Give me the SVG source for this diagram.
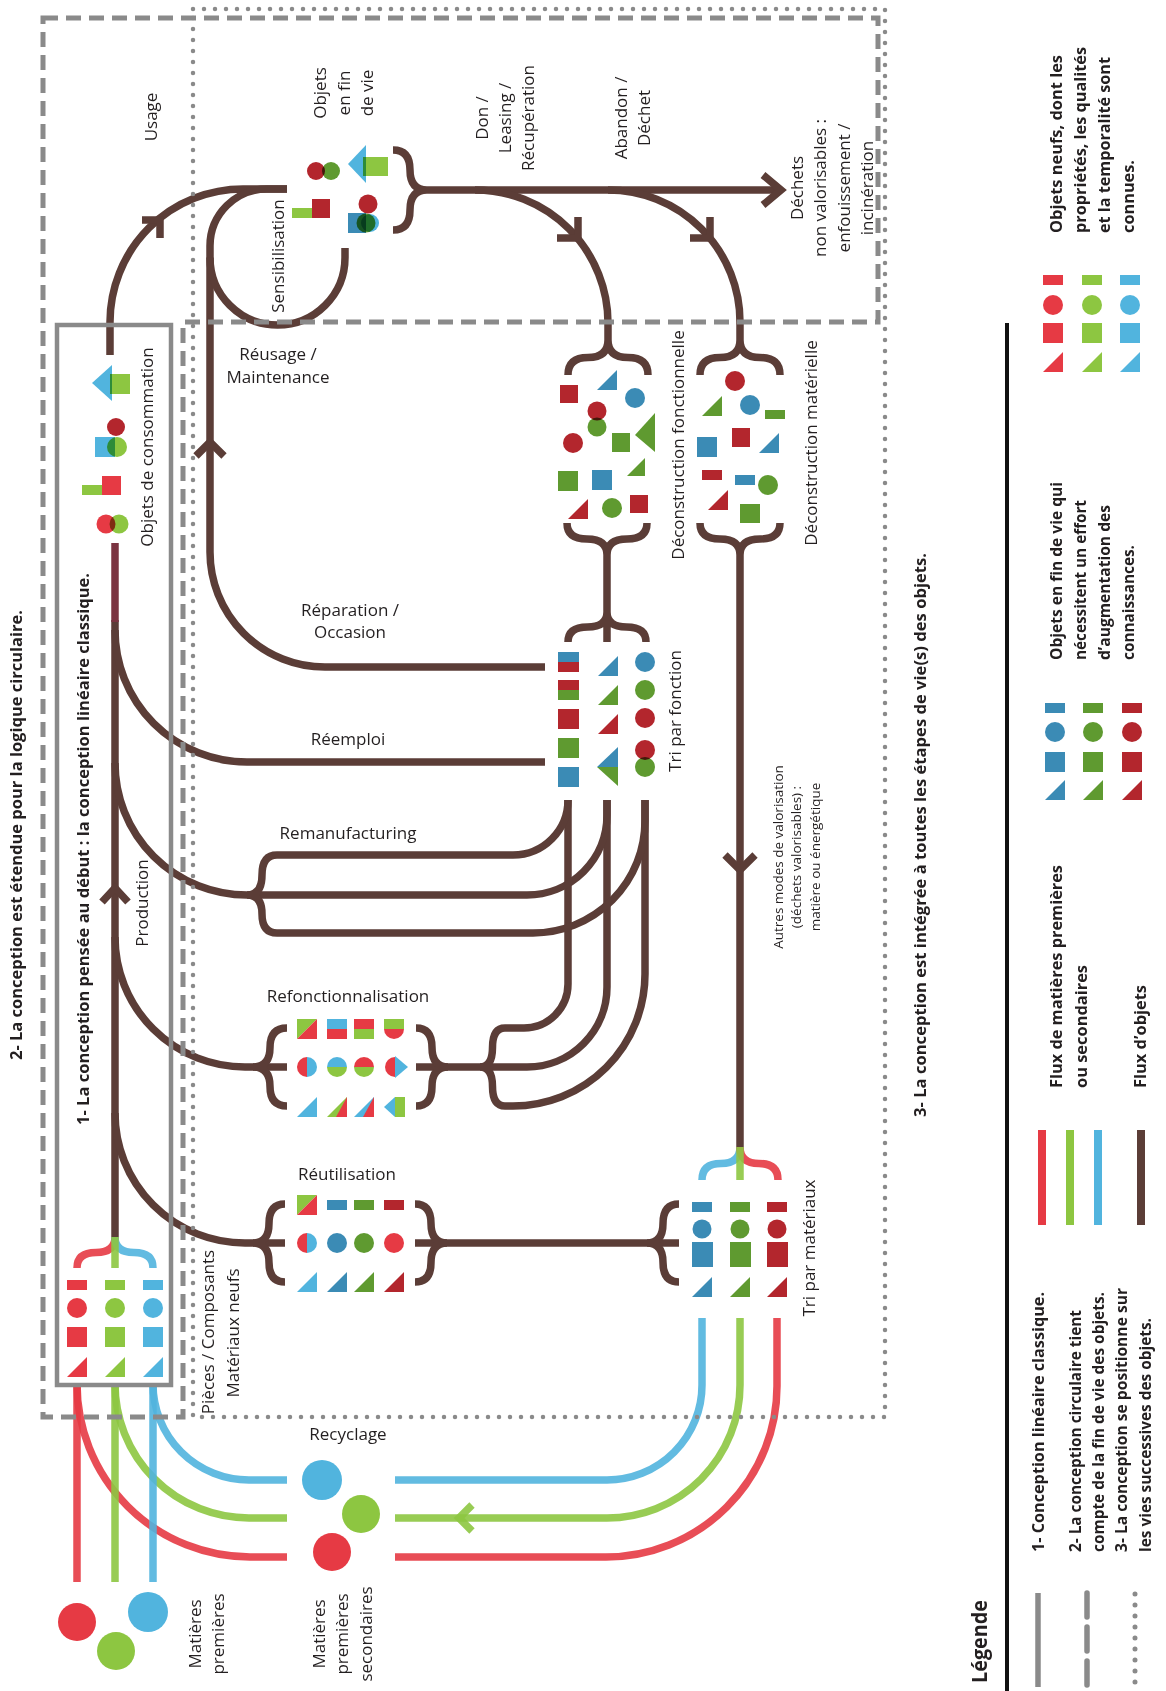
<svg xmlns="http://www.w3.org/2000/svg" width="1166" height="1691" viewBox="0 0 1166 1691">
<style>
.t{font-family:"Open Sans","Liberation Sans",sans-serif;font-size:17px;fill:#231f20}
.b{font-weight:bold;font-size:16px}
.sm{font-size:13.5px}
.m{text-anchor:middle}
.br{fill:none;stroke:#5b3d37;stroke-width:7.5}
.cr{fill:none;stroke:#e63a44;stroke-width:7.5;stroke-opacity:.9}
.cg{fill:none;stroke:#8dc641;stroke-width:7.5;stroke-opacity:.9}
.cb{fill:none;stroke:#51b4de;stroke-width:7.5;stroke-opacity:.9}
.R{fill:#e63a44}.G{fill:#8dc641}.B{fill:#51b4de}
.DR{fill:#b3262d}.DG{fill:#5f9a30}.DB{fill:#3b8bb5}
.mx{mix-blend-mode:multiply}
.fr{fill:none;stroke:#8a8a8a}
</style>
<defs>
<path id="tri" d="M20,0V20H0Z"/>
<rect id="sq" width="20" height="20"/>
<rect id="bar" width="20" height="10"/>
</defs>
<rect width="1166" height="1691" fill="#fff"/>

<g id="connectors">
<path class="br" d="M115,620V1237"/>
<path d="M115,543V622" fill="none" stroke="#7b3441" stroke-width="7.5"/>
<path class="br" d="M102,902L115,888L128,902"/>
<path class="br" d="M110,355V322A133,133 0 0 1 243,189H287"/>
<path class="br" d="M142,220H160V238"/>
<path class="br" d="M287,189H267A57,57 0 0 0 210,246V552A115,115 0 0 0 325,667H545"/>
<path class="br" d="M196,456L210,442L224,456"/>
<path class="br" d="M210,257.5A67.5,67.5 0 0 0 345,257.5V248"/>
<path class="br" d="M393,150Q410,150 410,170Q410,190 427,190Q410,190 410,210Q410,230 393,230"/>
<path class="br" d="M427,190H781"/>
<path class="br" d="M763,175L781,190L763,205"/>
<path class="br" d="M475,190A133,133 0 0 1 608,323V340"/>
<path class="br" d="M557,238H578V217"/>
<path class="br" d="M608,190A132,132 0 0 1 740,322V340"/>
<path class="br" d="M690,238H710V217"/>
<path class="br" d="M608,340Q608,357.5 588,357.5Q568,357.5 568,375M608,340Q608,357.5 628,357.5Q648,357.5 648,375"/>
<path class="br" d="M740,340Q740,357.5 720,357.5Q700,357.5 700,375M740,340Q740,357.5 760,357.5Q780,357.5 780,375"/>
<path class="br" d="M567,523Q567,539 587,539Q607,539 607,555M647,523Q647,539 627,539Q607,539 607,555V612"/>
<path class="br" d="M700,523Q700,539 720,539Q740,539 740,555M780,523Q780,539 760,539Q740,539 740,555V1147"/>
<path class="br" d="M725,855L740,870L755,855"/>
<path class="br" d="M607,612Q607,627 587.5,627Q568,627 568,642M607,612Q607,627 626.5,627Q646,627 646,642M607,612V642"/>
<path class="br" d="M115,630A132,132 0 0 0 247,762H545"/>
<path class="br" d="M568,800V984A44,44 0 0 1 524,1028H505"/>
<path class="br" d="M607,800V987A80,80 0 0 1 527,1067H416"/>
<path class="br" d="M645,800V974A132,132 0 0 1 513,1106H505"/>
<path class="br" d="M568,800A55,55 0 0 1 513,855H277"/>
<path class="br" d="M607,800V815A80,80 0 0 1 527,895H247"/>
<path class="br" d="M645,800V821A112,112 0 0 1 533,933H277"/>
<path class="br" d="M115,763A132,132 0 0 0 247,895"/>
<path class="br" d="M247,895Q262,895 262,875Q262,855 277,855M247,895Q262,895 262,914Q262,933 277,933"/>
<path class="br" d="M115,937A130,130 0 0 0 245,1067H287"/>
<path class="br" d="M253,1067Q270,1067 270,1047.5Q270,1028 287,1028M253,1067Q270,1067 270,1086.5Q270,1106 287,1106"/>
<path class="br" d="M448,1067Q432,1067 432,1047.5Q432,1028 416,1028M448,1067Q432,1067 432,1086.5Q432,1106 416,1106"/>
<path class="br" d="M480,1067Q492.5,1067 492.5,1047.5Q492.5,1028 505,1028M480,1067Q492.5,1067 492.5,1086.5Q492.5,1106 505,1106"/>
<path class="br" d="M115,1113A130,130 0 0 0 245,1243H285"/>
<path class="br" d="M253,1243Q269,1243 269,1223.5Q269,1204 285,1204M253,1243Q269,1243 269,1262.5Q269,1282 285,1282"/>
<path class="br" d="M415,1243H679"/>
<path class="br" d="M447,1243Q431,1243 431,1223.5Q431,1204 415,1204M447,1243Q431,1243 431,1262.5Q431,1282 415,1282"/>
<path class="br" d="M647,1243Q663,1243 663,1223.5Q663,1204 679,1204M647,1243Q663,1243 663,1262.5Q663,1282 679,1282"/>
<path class="cb" d="M740,1147Q740,1163.5 721,1163.5Q702,1163.5 702,1180"/>
<path class="cr" d="M740,1147Q740,1163.5 759,1163.5Q778,1163.5 778,1180"/>
<path class="cg" d="M740,1147V1180"/>
<path class="cr" d="M115,1237Q115,1252.5 96,1252.5Q77,1252.5 77,1268"/>
<path class="cb" d="M115,1237Q115,1252.5 134,1252.5Q153,1252.5 153,1268"/>
<path class="cg" d="M115,1237V1268"/>
<path class="cb" d="M702,1318V1385A95,95 0 0 1 607,1480H395"/>
<path class="cg" d="M740,1318V1385A133,133 0 0 1 607,1518H395"/>
<path class="cr" d="M777,1318V1386A171,171 0 0 1 606,1557H395"/>
<path class="cg" d="M472,1505L459,1518L472,1531"/>
<path class="cb" d="M153,1384A96,96 0 0 0 249,1480H287"/>
<path class="cg" d="M115,1384A134,134 0 0 0 249,1518H287"/>
<path class="cr" d="M77,1384A173,173 0 0 0 250,1557H287"/>
<path class="cr" d="M77,1385V1582"/>
<path class="cg" d="M115,1385V1582"/>
<path class="cb" d="M153,1385V1582"/>
</g>

<g id="frames">
<path class="fr" d="M43,18H878V322H183V1417H43Z" stroke-width="5" stroke-dasharray="15 8"/>
<rect class="fr" x="193" y="9" width="692" height="1408" stroke-width="4.5" stroke-dasharray="0 11" stroke-linecap="round"/>
<rect class="fr" x="57" y="325" width="114" height="1060" stroke-width="4.5"/>
</g>

<g id="frame-labels" class="t b">
<text class="m" transform="translate(21.5,835) rotate(-90)" textLength="450" lengthAdjust="spacingAndGlyphs">2- La conception est étendue pour la logique circulaire.</text>
<text class="m" transform="translate(88.5,849) rotate(-90)" textLength="552" lengthAdjust="spacingAndGlyphs">1- La conception pensée au début : la conception linéaire classique.</text>
<text class="m" transform="translate(926,835) rotate(-90)" textLength="564" lengthAdjust="spacingAndGlyphs">3- La conception est intégrée à toutes les étapes de vie(s) des objets.</text>
</g>

<g id="flow-labels" class="t">
<text class="m" transform="translate(157,117) rotate(-90)">Usage</text>
<text class="m" transform="translate(148,903) rotate(-90)">Production</text>
<text class="m" transform="translate(284,256) rotate(-90)">Sensibilisation</text>
<text class="m" transform="translate(488,118) rotate(-90)">Don /</text>
<text class="m" transform="translate(511,118) rotate(-90)">Leasing /</text>
<text class="m" transform="translate(534,118) rotate(-90)">Récupération</text>
<text class="m" transform="translate(627,118) rotate(-90)">Abandon /</text>
<text class="m" transform="translate(650,118) rotate(-90)">Déchet</text>
<text class="m" x="278" y="360">Réusage /</text>
<text class="m" x="278" y="383">Maintenance</text>
<text class="m" x="350" y="616">Réparation /</text>
<text class="m" x="350" y="638">Occasion</text>
<text class="m" x="348" y="745">Réemploi</text>
<text class="m" x="348" y="839">Remanufacturing</text>
<text class="m" x="348" y="1002">Refonctionnalisation</text>
<text class="m" x="347" y="1180">Réutilisation</text>
<text class="m" x="348" y="1440">Recyclage</text>
<text class="m sm" transform="translate(783,857) rotate(-90)">Autres modes de valorisation</text>
<text class="m sm" transform="translate(801,857) rotate(-90)">(déchets valorisables) :</text>
<text class="m sm" transform="translate(820,857) rotate(-90)">matière ou énergétique</text>
</g>

<g id="node-consommation">
<path class="B" d="M92,383L112,365L112,401Z"/>
<rect class="G mx" x="110" y="374" width="20" height="20"/>
<circle class="DR" cx="116" cy="427" r="9"/>
<rect class="B" x="95" y="437" width="20" height="20"/>
<circle class="G mx" cx="117" cy="447" r="10"/>
<rect class="G" x="82" y="485" width="20" height="10"/>
<rect class="R" x="102" y="476" width="19" height="19"/>
<circle class="R" cx="106" cy="524" r="9.5"/>
<circle class="G mx" cx="119" cy="524" r="9.5"/>
<text class="t m" transform="translate(153,447) rotate(-90)">Objets de consommation</text>
</g>

<g id="node-fin-de-vie">
<circle class="DR" cx="316" cy="171" r="9"/>
<circle class="DG mx" cx="331" cy="171" r="9"/>
<path class="B" d="M348,164L366,145L366,183Z"/>
<rect class="G mx" x="363" y="157" width="25" height="19"/>
<rect class="G" x="292" y="208" width="20" height="10"/>
<rect class="DR" x="312" y="199" width="18" height="19"/>
<circle class="DR" cx="368" cy="204" r="9.5"/>
<rect class="DB" x="348" y="213" width="18" height="20"/>
<circle class="DG mx" cx="366" cy="223" r="9.5"/>
<circle class="B mx" cx="370" cy="223" r="9"/>
<text class="t m" transform="translate(326,93) rotate(-90)">Objets</text>
<text class="t m" transform="translate(350,93) rotate(-90)">en fin</text>
<text class="t m" transform="translate(373,93) rotate(-90)">de vie</text>
</g>

<g id="node-dechets">
<text class="t m" transform="translate(803,188) rotate(-90)">Déchets</text>
<text class="t m" transform="translate(826,188) rotate(-90)">non valorisables :</text>
<text class="t m" transform="translate(850,188) rotate(-90)">enfouissement /</text>
<text class="t m" transform="translate(873,188) rotate(-90)">incinération</text>
</g>

<g id="node-deconstruction-fonctionnelle">
<rect class="DR" x="560" y="385" width="18" height="18"/>
<use href="#tri" class="DB" x="597" y="370"/>
<circle class="DB" cx="635" cy="398" r="10"/>
<circle class="DR" cx="597" cy="411" r="9.5"/>
<circle class="DG mx" cx="597" cy="427" r="9.5"/>
<path class="DG" d="M655,413V452L635,435Z"/>
<circle class="DR" cx="573" cy="443" r="10"/>
<rect class="DG" x="612" y="433" width="18" height="19"/>
<use href="#sq" class="DG" x="558" y="471"/>
<use href="#sq" class="DB" x="592" y="470"/>
<path class="DG" d="M645,458V476H627Z"/>
<use href="#tri" class="DR" x="568" y="499"/>
<circle class="DG" cx="612" cy="508" r="10"/>
<rect class="DR" x="630" y="495" width="18" height="18"/>
<text class="t m" transform="translate(684,445) rotate(-90)">Déconstruction fonctionnelle</text>
</g>

<g id="node-deconstruction-materielle">
<circle class="DR" cx="735" cy="381" r="10"/>
<use href="#tri" class="DG" x="702" y="396"/>
<circle class="DB" cx="750" cy="405" r="10"/>
<rect class="DG" x="765" y="410" width="20" height="9"/>
<use href="#sq" class="DB" x="697" y="437"/>
<rect class="DR" x="732" y="428" width="18" height="19"/>
<use href="#tri" class="DB" x="759" y="433"/>
<use href="#bar" class="DR" x="702" y="470"/>
<use href="#bar" class="DB" x="735" y="475"/>
<circle class="DG" cx="768" cy="485" r="10"/>
<use href="#tri" class="DR" x="708" y="490"/>
<rect class="DG" x="740" y="504" width="20" height="19"/>
<text class="t m" transform="translate(817,443) rotate(-90)">Déconstruction matérielle</text>
</g>

<g id="node-tri-fonction">
<rect class="DB" x="558" y="652" width="21" height="10"/>
<rect class="DR" x="558" y="662" width="21" height="10"/>
<rect class="DR" x="558" y="680" width="21" height="10"/>
<rect class="DG" x="558" y="690" width="21" height="10"/>
<rect class="DR" x="558" y="709" width="21" height="20"/>
<rect class="DG" x="558" y="738" width="21" height="20"/>
<rect class="DB" x="558" y="767" width="21" height="20"/>
<use href="#tri" class="DB" x="598" y="656"/>
<use href="#tri" class="DG" x="598" y="685"/>
<use href="#tri" class="DR" x="598" y="714"/>
<path class="DB" d="M618,747V767H597Z"/>
<path class="DG" d="M597,767H618V786Z"/>
<circle class="DB" cx="645" cy="662" r="10"/>
<circle class="DG" cx="645" cy="690" r="10"/>
<circle class="DR" cx="645" cy="718" r="10"/>
<circle class="DR" cx="645" cy="750" r="10"/>
<circle class="DG mx" cx="645" cy="767" r="10"/>
<text class="t m" transform="translate(681,711) rotate(-90)">Tri par fonction</text>
</g>

<g id="node-refonctionnalisation">
<path class="G" d="M297,1019H317L297,1039Z"/>
<path class="R" d="M317,1019V1039H297Z"/>
<rect class="B" x="327" y="1019" width="20" height="10"/>
<rect class="R" x="327" y="1029" width="20" height="10"/>
<rect class="R" x="354" y="1019" width="20" height="10"/>
<rect class="G" x="354" y="1029" width="20" height="10"/>
<rect class="G" x="384" y="1019" width="20" height="10"/>
<path class="R" d="M384,1029A10,10 0 0 0 404,1029Z"/>
<path class="R" d="M307,1057A10,10 0 0 0 307,1077Z"/>
<path class="B" d="M307,1057A10,10 0 0 1 307,1077Z"/>
<path class="B" d="M327,1067A10,10 0 0 1 347,1067Z"/>
<path class="G" d="M327,1067A10,10 0 0 0 347,1067Z"/>
<path class="R" d="M354,1067A10,10 0 0 1 374,1067Z"/>
<path class="G" d="M354,1067A10,10 0 0 0 374,1067Z"/>
<path class="R" d="M395,1057A10,10 0 0 0 395,1077Z"/>
<path class="B" d="M395,1056L408,1067L395,1078Z"/>
<use href="#tri" class="B" x="297" y="1097"/>
<use href="#tri" class="G" x="327" y="1097"/>
<path class="R" d="M347,1097V1117H336Z"/>
<use href="#tri" class="B" x="354" y="1097"/>
<path class="R" d="M374,1097V1117H363Z"/>
<path class="B" d="M384,1107L395,1097V1117Z"/>
<rect class="G" x="395" y="1097" width="10" height="20"/>
</g>

<g id="node-reutilisation">
<path class="G" d="M297,1195H317L297,1215Z"/>
<path class="R" d="M317,1195V1215H297Z"/>
<use href="#bar" class="DB" x="327" y="1200"/>
<use href="#bar" class="DG" x="354" y="1200"/>
<use href="#bar" class="DR" x="384" y="1200"/>
<path class="R" d="M307,1233A10,10 0 0 0 307,1253Z"/>
<path class="B" d="M307,1233A10,10 0 0 1 307,1253Z"/>
<circle class="DB" cx="337" cy="1243" r="10"/>
<circle class="DG" cx="364" cy="1243" r="10"/>
<circle class="R" cx="394" cy="1243" r="10"/>
<use href="#tri" class="B" x="297" y="1272"/>
<use href="#tri" class="DB" x="327" y="1272"/>
<use href="#tri" class="DG" x="354" y="1272"/>
<use href="#tri" class="DR" x="384" y="1272"/>
</g>

<g id="node-tri-materiaux">
<use href="#bar" class="DB" x="692" y="1202"/>
<use href="#bar" class="DG" x="730" y="1202"/>
<use href="#bar" class="DR" x="767" y="1202"/>
<circle class="DB" cx="702" cy="1229" r="9.5"/>
<circle class="DG" cx="740" cy="1229" r="9.5"/>
<circle class="DR" cx="777" cy="1229" r="9.5"/>
<rect class="DB" x="692" y="1242" width="21" height="25"/>
<rect class="DG" x="730" y="1242" width="21" height="25"/>
<rect class="DR" x="767" y="1242" width="21" height="25"/>
<use href="#tri" class="DB" x="692" y="1277"/>
<use href="#tri" class="DG" x="730" y="1277"/>
<use href="#tri" class="DR" x="767" y="1277"/>
<text class="t m" transform="translate(815,1248) rotate(-90)">Tri par matériaux</text>
</g>

<g id="node-composants">
<use href="#bar" class="R" x="67" y="1280"/>
<use href="#bar" class="G" x="105" y="1280"/>
<use href="#bar" class="B" x="143" y="1280"/>
<circle class="R" cx="77" cy="1308" r="10"/>
<circle class="G" cx="115" cy="1308" r="10"/>
<circle class="B" cx="153" cy="1308" r="10"/>
<use href="#sq" class="R" x="67" y="1327"/>
<use href="#sq" class="G" x="105" y="1327"/>
<use href="#sq" class="B" x="143" y="1327"/>
<use href="#tri" class="R" x="67" y="1357"/>
<use href="#tri" class="G" x="105" y="1357"/>
<use href="#tri" class="B" x="143" y="1357"/>
<text class="t m" transform="translate(214,1332) rotate(-90)">Pièces / Composants</text>
<text class="t m" transform="translate(239,1333) rotate(-90)">Matériaux neufs</text>
</g>

<g id="node-matieres-premieres">
<circle class="R" cx="77" cy="1622" r="19"/>
<circle class="G" cx="116" cy="1651" r="19"/>
<circle class="B" cx="148" cy="1612" r="20"/>
<text class="t m" transform="translate(201,1634) rotate(-90)">Matières</text>
<text class="t m" transform="translate(224,1634) rotate(-90)">premières</text>
</g>

<g id="node-matieres-secondaires">
<circle class="B" cx="322" cy="1480" r="20"/>
<circle class="G" cx="361" cy="1514" r="19"/>
<circle class="R" cx="332" cy="1552" r="19"/>
<text class="t m" transform="translate(325,1634) rotate(-90)">Matières</text>
<text class="t m" transform="translate(348,1634) rotate(-90)">premières</text>
<text class="t m" transform="translate(372,1634) rotate(-90)">secondaires</text>
</g>

<g id="legend">
<path d="M1007,323V1691" stroke="#111" stroke-width="4"/>
<text class="t b" transform="translate(987,1683) rotate(-90)" style="font-size:21px" textLength="83" lengthAdjust="spacingAndGlyphs">Légende</text>
<path class="fr" d="M1038,1593V1687" stroke-width="5.5"/>
<path class="fr" d="M1087,1593V1687" stroke-width="5.5" stroke-dasharray="24 10" stroke-linecap="round"/>
<path class="fr" d="M1135,1594V1687" stroke-width="5" stroke-dasharray="0 11" stroke-linecap="round"/>
<g class="t b">
<text transform="translate(1044,1552) rotate(-90)" textLength="260" lengthAdjust="spacingAndGlyphs">1- Conception linéaire classique.</text>
<text transform="translate(1081,1552) rotate(-90)" textLength="242" lengthAdjust="spacingAndGlyphs">2- La conception circulaire tient</text>
<text transform="translate(1104,1552) rotate(-90)" textLength="260" lengthAdjust="spacingAndGlyphs">compte de la fin de vie des objets.</text>
<text transform="translate(1127,1552) rotate(-90)" textLength="264" lengthAdjust="spacingAndGlyphs">3- La conception se positionne sur</text>
<text transform="translate(1151,1552) rotate(-90)" textLength="234" lengthAdjust="spacingAndGlyphs">les vies successives des objets.</text>
<text transform="translate(1062,1088) rotate(-90)" textLength="223" lengthAdjust="spacingAndGlyphs">Flux de matières premières</text>
<text transform="translate(1087,1088) rotate(-90)" textLength="123" lengthAdjust="spacingAndGlyphs">ou secondaires</text>
<text transform="translate(1146,1088) rotate(-90)" textLength="103" lengthAdjust="spacingAndGlyphs">Flux d’objets</text>
<text transform="translate(1062,660) rotate(-90)" textLength="178" lengthAdjust="spacingAndGlyphs">Objets en fin de vie qui</text>
<text transform="translate(1086,660) rotate(-90)" textLength="160" lengthAdjust="spacingAndGlyphs">nécessitent un effort</text>
<text transform="translate(1110,660) rotate(-90)" textLength="155" lengthAdjust="spacingAndGlyphs">d’augmentation des</text>
<text transform="translate(1134,660) rotate(-90)" textLength="115" lengthAdjust="spacingAndGlyphs">connaissances.</text>
<text transform="translate(1062,233) rotate(-90)" textLength="178" lengthAdjust="spacingAndGlyphs">Objets neufs, dont les</text>
<text transform="translate(1086,233) rotate(-90)" textLength="186" lengthAdjust="spacingAndGlyphs">propriétés, les qualités</text>
<text transform="translate(1110,233) rotate(-90)" textLength="176" lengthAdjust="spacingAndGlyphs">et la temporalité sont</text>
<text transform="translate(1134,233) rotate(-90)" textLength="73" lengthAdjust="spacingAndGlyphs">connues.</text>
</g>
<path d="M1042,1130V1225" stroke="#e63a44" stroke-width="8"/>
<path d="M1070,1130V1225" stroke="#8dc641" stroke-width="8"/>
<path d="M1098,1130V1225" stroke="#51b4de" stroke-width="8"/>
<path d="M1141,1130V1225" stroke="#5b3d37" stroke-width="8"/>
<use href="#bar" class="R" x="1043" y="275"/>
<use href="#bar" class="G" x="1082" y="275"/>
<use href="#bar" class="B" x="1120" y="275"/>
<circle class="R" cx="1053" cy="305" r="10"/>
<circle class="G" cx="1092" cy="305" r="10"/>
<circle class="B" cx="1130" cy="305" r="10"/>
<use href="#sq" class="R" x="1043" y="323"/>
<use href="#sq" class="G" x="1082" y="323"/>
<use href="#sq" class="B" x="1120" y="323"/>
<use href="#tri" class="R" x="1043" y="352"/>
<use href="#tri" class="G" x="1082" y="352"/>
<use href="#tri" class="B" x="1120" y="352"/>
<use href="#bar" class="DB" x="1045" y="703"/>
<use href="#bar" class="DG" x="1083" y="703"/>
<use href="#bar" class="DR" x="1122" y="703"/>
<circle class="DB" cx="1055" cy="732" r="10"/>
<circle class="DG" cx="1093" cy="732" r="10"/>
<circle class="DR" cx="1132" cy="732" r="10"/>
<use href="#sq" class="DB" x="1045" y="752"/>
<use href="#sq" class="DG" x="1083" y="752"/>
<use href="#sq" class="DR" x="1122" y="752"/>
<use href="#tri" class="DB" x="1045" y="780"/>
<use href="#tri" class="DG" x="1083" y="780"/>
<use href="#tri" class="DR" x="1122" y="780"/>
</g>
</svg>
